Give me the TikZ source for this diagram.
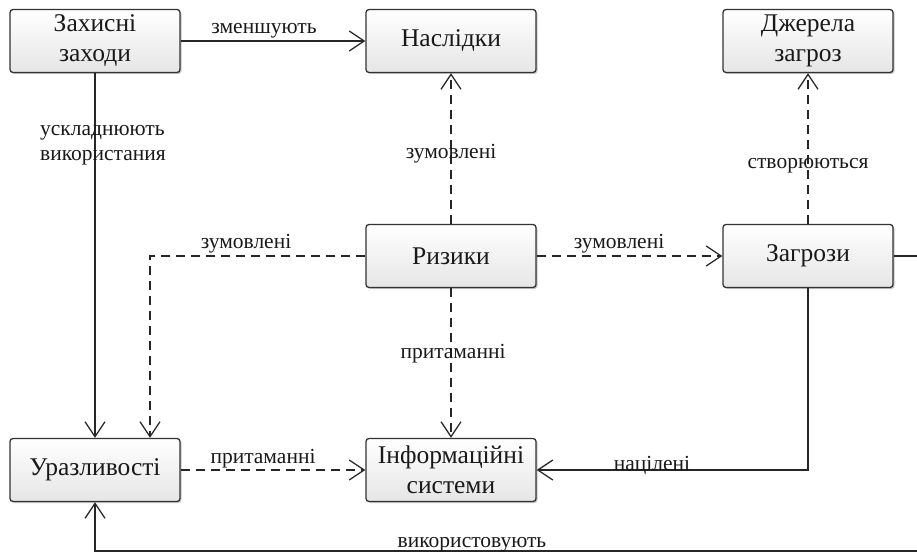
\documentclass[tikz,border=0pt]{standalone}
\usepackage{fontspec}
\setmainfont{Liberation Serif}
\usetikzlibrary{arrows.meta,shadows}
\tikzset{
  box/.style={draw=black!80, line width=1.3pt, rounded corners=3pt,
    top color=white, bottom color=black!10,
    drop shadow={shadow xshift=1.5pt, shadow yshift=-1.5pt, fill=black!45},
    minimum width=170pt, minimum height=63pt, align=center,
    font=\fontsize{25.5}{30}\selectfont, inner sep=1pt, text=black!90},
  con/.style={line width=1.3pt, draw=black!85, -{Straight Barb[length=15pt,width=20pt,line width=1.3pt]}},
  dcon/.style={con, dash pattern=on 9pt off 6pt},
  lbl/.style={font=\fontsize{21.5}{25}\selectfont, inner sep=1pt, text=black!90}
}
\begin{document}
\begin{tikzpicture}[x=1pt,y=-1pt]
\useasboundingbox (0,0) rectangle (917,553);
\clip (0,0) rectangle (917,553);
\node[box] (zax) at (95,41) {Захисні\\заходи};
\node[box] (nasl) at (451,41) {Наслідки};
\node[box] (dzh) at (808,41) {Джерела\\загроз};
\node[box] (ryz) at (451,256) {Ризики};
\node[box] (zagr) at (808,256) {Загрози};
\node[box] (uraz) at (95,470) {Уразливості};
\node[box] (inf) at (451,470) {Інформаційні\\системи};
\coordinate (c1) at (150,256);
\coordinate (c2) at (808,470);
\coordinate (c3) at (935,256);
\coordinate (c4) at (935,551);
\coordinate (c5) at (95,551);
% connectors
\draw[con] (zax) -- (nasl);
\draw[con] (zax) -- (uraz);
\draw[dcon] (ryz) -- (nasl);
\draw[dcon] (zagr) -- (dzh);
\draw[dcon] (ryz.west) -- (c1) -- (c1 |- uraz.north);
\draw[dcon] (ryz) -- (zagr);
\draw[dcon] (ryz) -- (inf);
\draw[dcon] (uraz) -- (inf);
\draw[con] (zagr.south) -- (c2) -- (inf.east);
\draw[con] (zagr.east) -- (c3) -- (c4) -- (c5) -- (uraz.south);
% labels
\node[lbl, anchor=base] (l1) at (264,34) {зменшують};
\node[lbl, align=left] (l2) at (103,145) {ускладнюють\\використания};
\node[lbl, anchor=base] (l3) at (451,159) {зумовлені};
\node[lbl, anchor=base] (l4) at (808,169) {створюються};
\node[lbl, anchor=base] (l5) at (246,248) {зумовлені};
\node[lbl, anchor=base] (l6) at (619,248) {зумовлені};
\node[lbl, anchor=base] (l7) at (453,358) {притаманні};
\node[lbl, anchor=base] (l8) at (263,463) {притаманні};
\node[lbl, anchor=base] (l9) at (652,470) {націлені};
\node[lbl, anchor=base] (l10) at (472,547) {використовують};
\end{tikzpicture}
\end{document}
